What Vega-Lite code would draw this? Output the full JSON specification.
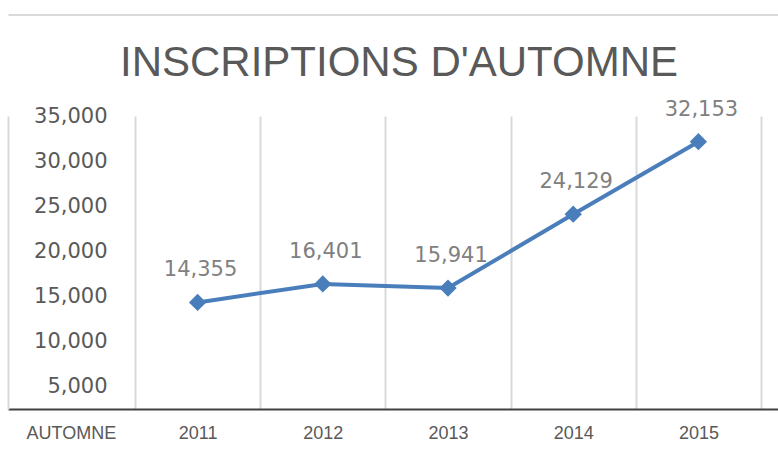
{
  "$schema": "https://vega.github.io/schema/vega-lite/v6.json",
  "width": 770,
  "height": 293,
  "autosize": {"type": "none"},
  "padding": {"left": 8, "top": 116, "right": 0, "bottom": 41},
  "background": "white",
  "title": {
    "text": "INSCRIPTIONS D'AUTOMNE",
    "font": "Liberation Sans",
    "fontSize": 42,
    "fontWeight": "normal",
    "color": "#595959",
    "anchor": "middle",
    "frame": "group",
    "baseline": "alphabetic",
    "offset": -103,
    "dx": 6
  },
  "config": {"view": {"stroke": null}},
  "data": {
    "values": [
      {"year": "2011", "value": 14355},
      {"year": "2012", "value": 16401},
      {"year": "2013", "value": 15941},
      {"year": "2014", "value": 24129},
      {"year": "2015", "value": 32153}
    ]
  },
  "encoding": {
    "y": {
      "field": "value",
      "type": "quantitative",
      "scale": {"domain": [2550, 35000], "nice": false, "zero": false},
      "axis": {
        "orient": "left",
        "values": [5000, 10000, 15000, 20000, 25000, 30000, 35000],
        "format": ",.0f",
        "domain": true,
        "domainColor": "#d9d9d9",
        "domainWidth": 2,
        "ticks": false,
        "tickSize": 0,
        "grid": false,
        "labelPadding": -99,
        "labelAlign": "right",
        "labelBaseline": "middle",
        "labelFont": "DejaVu Sans",
        "labelFontSize": 21,
        "labelColor": "#595959",
        "labelFlush": false,
        "labelOverlap": false,
        "title": null
      }
    }
  },
  "layer": [
    {
      "mark": {"type": "line", "color": "#4a7ebb", "strokeWidth": 4},
      "encoding": {
        "x": {
          "field": "year",
          "type": "ordinal",
          "scale": {"type": "band", "paddingInner": 0, "paddingOuter": 0.575, "align": 0.882},
          "axis": {
            "orient": "bottom",
            "domainColor": "#404040",
            "domainWidth": 2,
            "ticks": false,
            "tickSize": 0,
            "grid": true,
            "gridColor": "#d9d9d9",
            "gridWidth": 2,
            "tickBand": "extent",
            "labelAngle": 0,
            "labelFont": "Liberation Sans",
            "labelFontSize": 18,
            "labelColor": "#595959",
            "labelPadding": 24,
            "labelBaseline": "middle",
            "title": "AUTOMNE",
            "titleFont": "Liberation Sans",
            "titleFontSize": 18,
            "titleFontWeight": "normal",
            "titleColor": "#595959",
            "titleX": 18,
            "titleY": 24,
            "titleAlign": "left",
            "titleBaseline": "middle",
            "titleAnchor": "start"
          }
        }
      }
    },
    {
      "mark": {"type": "point", "shape": "diamond", "filled": true, "size": 300, "color": "#4a7ebb", "opacity": 1},
      "encoding": {
        "x": {"field": "year", "type": "ordinal", "axis": null}
      }
    },
    {
      "mark": {"type": "text", "font": "DejaVu Sans", "fontSize": 21, "color": "#808080", "dy": -32, "dx": 3},
      "encoding": {
        "x": {
          "field": "year",
          "type": "ordinal",
          "axis": {
            "orient": "top",
            "offset": 101.5,
            "labels": false,
            "ticks": false,
            "grid": false,
            "domainColor": "#d9d9d9",
            "domainWidth": 2,
            "title": null
          }
        },
        "text": {"field": "value", "type": "quantitative", "format": ",.0f"}
      }
    }
  ],
  "resolve": {"axis": {"x": "independent"}}
}
